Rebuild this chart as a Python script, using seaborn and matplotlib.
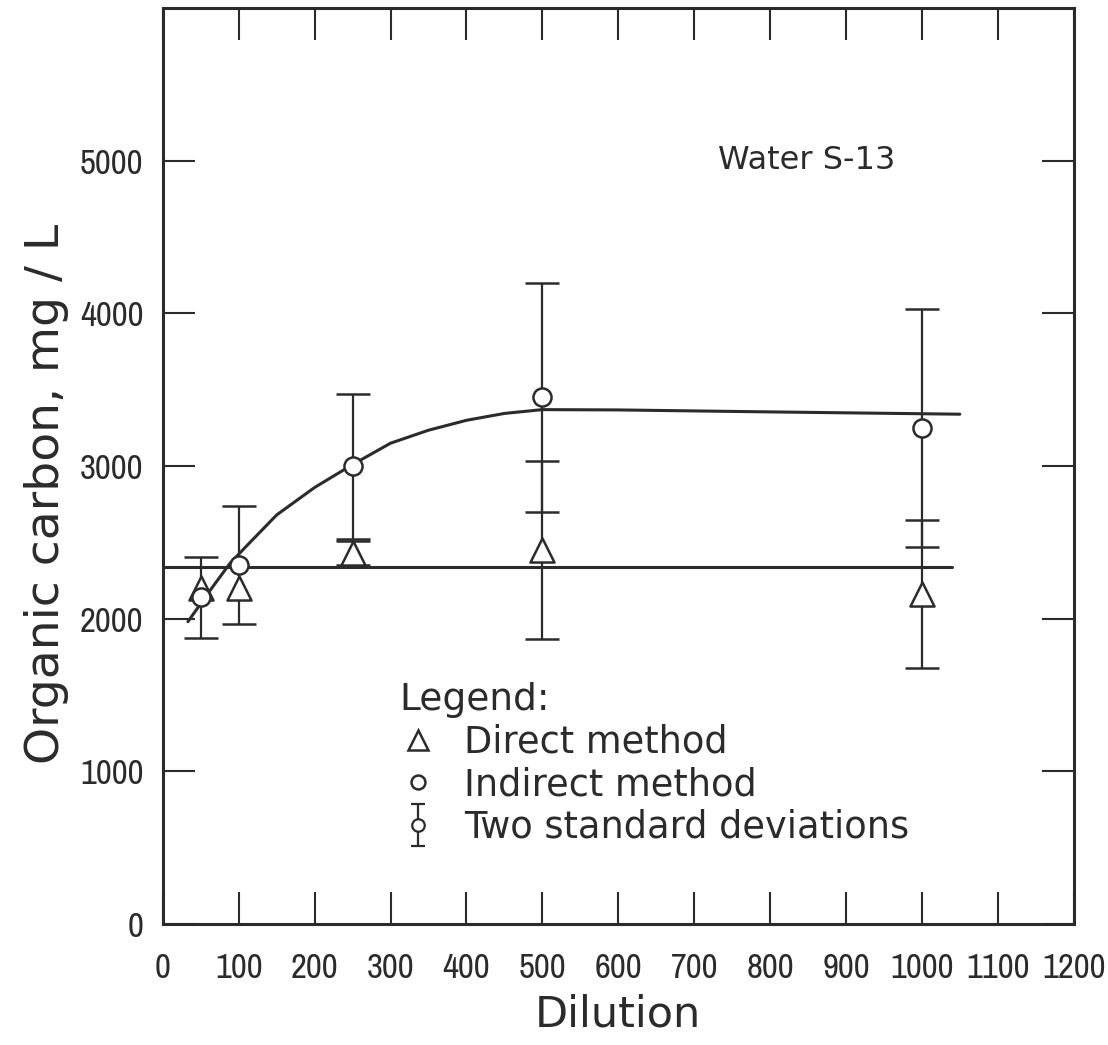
"""
organic carbon vs dilution, water S-13
"""

import matplotlib

matplotlib.use("Agg")
import matplotlib.pyplot as plt
import pandas as pd
import seaborn as sns
from matplotlib import font_manager
from matplotlib.legend_handler import HandlerTuple
from matplotlib.lines import Line2D
from matplotlib.path import Path

# data
dilution = [50, 100, 250, 500, 1000]
direct_mean = [2200, 2200, 2430, 2450, 2160]
direct_twosd = [0, 0, 80, 585, 485]
indirect_mean = [2140, 2350, 3000, 3450, 3250]
indirect_twosd = [267, 387, 475, 750, 780]

# hand-drawn fit lines
curve_x = [33, 60, 88, 110, 150, 200, 250, 300, 350, 400, 450, 500, 600, 800, 1050]
curve_y = [1980, 2170, 2360, 2475, 2680, 2860, 3010, 3150, 3235, 3300, 3345, 3370, 3368, 3355, 3340]
flat_x = [0, 1040]
flat_y = [2340, 2340]

xticks = list(range(0, 1300, 100))
yticks = list(range(0, 6000, 1000))

ink = "#2b2b2b"

# narrow font for tick numbers, if one is installed
tickFont = font_manager.FontProperties(family="DejaVu Sans", size=18)
cands = [
    f for f in font_manager.fontManager.ttflist
    if ("Narrow" in f.name or "Condensed" in f.name or "condensed" in str(f.stretch))
    and f.style == "normal" and f.weight in (400, "normal", "regular")
    and "CJK" not in f.name and "Mono" not in f.name
]
if cands:
    cands.sort(key=lambda f: (0 if "Narrow" in f.name else 1 if "extra" not in str(f.stretch) else 2))
    tickFont = font_manager.FontProperties(fname=cands[0].fname, size=25)

directData = pd.DataFrame({"dilution": dilution, "mean": direct_mean, "sd2": direct_twosd})
indirectData = pd.DataFrame({"dilution": dilution, "mean": indirect_mean, "sd2": indirect_twosd})

sns.set_style("ticks")
plt.rcParams["font.family"] = ["DejaVu Sans"]

fig, ax = plt.subplots(figsize=(11.08, 10.45), dpi=100)
fig.subplots_adjust(left=0.147, right=0.969, bottom=0.116, top=0.992)

# lines
sns.lineplot(x=curve_x, y=curve_y, ax=ax, color=ink, lw=2.2, sort=False)
sns.lineplot(x=flat_x, y=flat_y, ax=ax, color=ink, lw=2.2)

# error bars
for df in (indirectData, directData):
    sub = df[df.sd2 > 0]
    ax.errorbar(
        sub.dilution, sub["mean"], yerr=sub.sd2, fmt="none",
        ecolor=ink, elinewidth=1.6, capsize=12, capthick=1.8,
    )

# points
sns.scatterplot(data=directData, x="dilution", y="mean", ax=ax, marker="^", s=300,
                facecolor="white", edgecolor=ink, linewidth=1.8, zorder=5)
sns.scatterplot(data=indirectData, x="dilution", y="mean", ax=ax, marker="o", s=170,
                facecolor="white", edgecolor=ink, linewidth=1.8, zorder=5)

ax.set_xlim(0, 1200)
ax.set_ylim(0, 6000)
ax.set_xticks(xticks)
ax.set_yticks(yticks)
ax.tick_params(direction="in", length=23, width=1.5, color=ink, top=True, right=True,
               labelcolor=ink)
ax.tick_params(axis="x", pad=20)
ax.tick_params(axis="y", pad=14)
for lbl in ax.get_xticklabels() + ax.get_yticklabels():
    lbl.set_fontproperties(tickFont)
for sp in ax.spines.values():
    sp.set_linewidth(2.2)
    sp.set_color(ink)

ax.set_xlabel("Dilution", fontsize=31, color=ink)
ax.set_ylabel("Organic carbon, mg / L", fontsize=34, color=ink)
ax.xaxis.set_label_coords(0.5, -0.099)
ax.xaxis.label.set_va("center")
ax.yaxis.set_label_coords(-0.128, 0.47)
ax.yaxis.label.set_va("center")

ax.text(731, 5000, "Water S-13", fontsize=23, color=ink, va="center")

# legend
bar = Path(
    [(0, -1), (0, 1), (-0.35, 1), (0.35, 1), (-0.35, -1), (0.35, -1)],
    [Path.MOVETO, Path.LINETO, Path.MOVETO, Path.LINETO, Path.MOVETO, Path.LINETO],
)
triH = Line2D([], [], marker="^", ls="none", mfc="none", mec=ink, ms=14, mew=1.8)
circH = Line2D([], [], marker="o", ls="none", mfc="none", mec=ink, ms=10, mew=1.8)
barH = Line2D([], [], marker=bar, ls="none", mfc="none", mec=ink, ms=30, mew=1.6)
circSmall = Line2D([], [], marker="o", ls="none", mfc="white", mec=ink, ms=9, mew=1.6)
leg = ax.legend(
    [triH, circH, (barH, circSmall)],
    ["Direct method", "Indirect method", "Two standard deviations"],
    handler_map={tuple: HandlerTuple(ndivide=1)},
    title="Legend:", title_fontsize=27, fontsize=26.5, alignment="left",
    loc="upper left", bbox_to_anchor=(0.26, 0.264), frameon=False,
    borderpad=0, borderaxespad=0, handlelength=1.0, handletextpad=0.75,
    labelspacing=0.15, labelcolor=ink,
)
leg.get_title().set_color(ink)

fig.savefig("out.png", dpi=100)
